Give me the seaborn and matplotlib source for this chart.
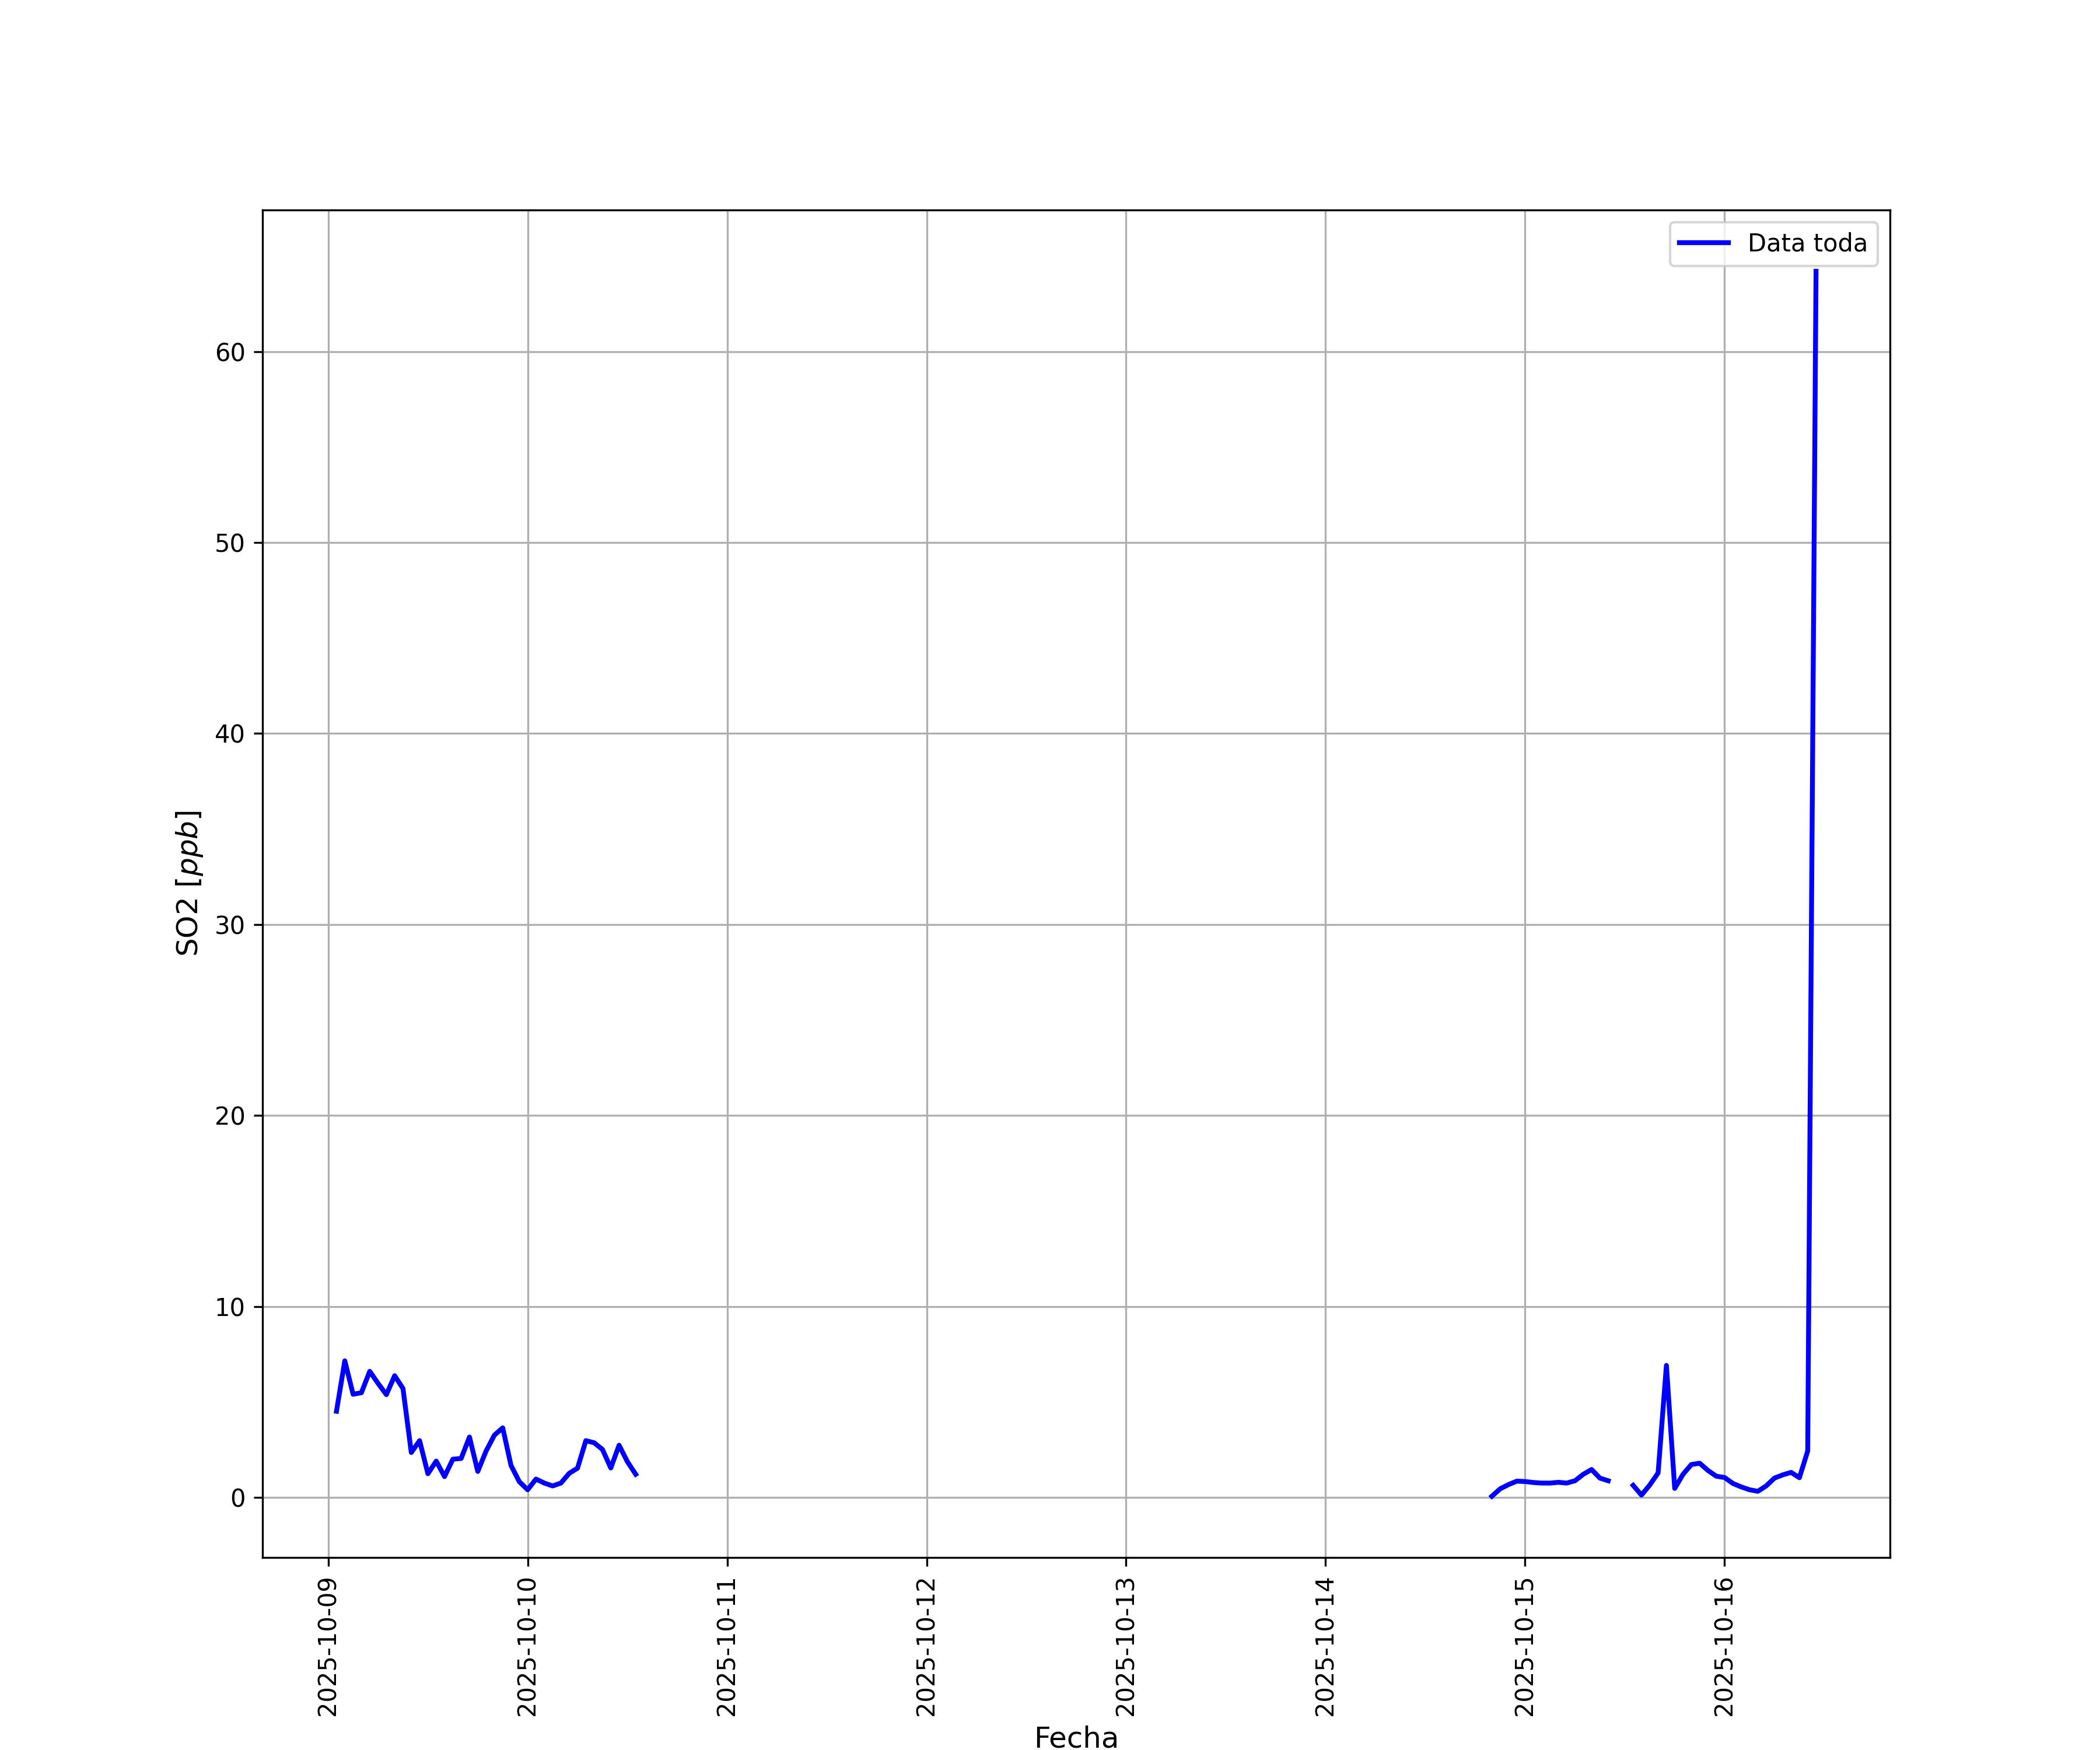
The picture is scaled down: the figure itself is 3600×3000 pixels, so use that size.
import pandas as pd
import seaborn as sns
import matplotlib.pyplot as plt

# Datos horarios de SO2 (ppb), tres tramos con huecos entre ellos
tramo1_inicio = "2025-10-09 01:00"
tramo1_so2 = [4.52, 7.16, 5.41, 5.49, 6.61, 5.98, 5.39, 6.38, 5.71, 2.36,
              2.98, 1.25, 1.91, 1.10, 2.01, 2.05, 3.17, 1.37, 2.44, 3.27,
              3.65, 1.68, 0.83, 0.41, 0.97, 0.76, 0.61, 0.76, 1.27, 1.54,
              2.98, 2.87, 2.52, 1.55, 2.74, 1.88, 1.22]

tramo2_inicio = "2025-10-14 20:00"
tramo2_so2 = [0.07, 0.46, 0.68, 0.86, 0.84, 0.79, 0.76, 0.76, 0.80, 0.76,
              0.88, 1.22, 1.47, 1.02, 0.88]

tramo3_inicio = "2025-10-15 13:00"
tramo3_so2 = [0.64, 0.13, 0.66, 1.29, 6.92, 0.48, 1.22, 1.73, 1.80, 1.42,
              1.12, 1.05, 0.74, 0.56, 0.41, 0.33, 0.61, 1.02, 1.19, 1.32,
              1.04, 2.44, 64.2]

tramos = [(tramo1_inicio, tramo1_so2), (tramo2_inicio, tramo2_so2), (tramo3_inicio, tramo3_so2)]

frames = []
for i, (inicio, vals) in enumerate(tramos):
    frames.append(pd.DataFrame({
        "Fecha": pd.date_range(inicio, periods=len(vals), freq="h"),
        "SO2": vals,
        "tramo": i,
    }))
df = pd.concat(frames, ignore_index=True)

fig, ax = plt.subplots(figsize=(12, 10))
for i, (tramo, d) in enumerate(df.groupby("tramo")):
    sns.lineplot(data=d, x="Fecha", y="SO2", color="b", linewidth=2,
                 label="Data toda" if i == 0 else None, legend=False, ax=ax)

ax.set_xlabel("Fecha", fontsize=12)
ax.set_ylabel("SO2 $[ppb]$", fontsize=12)
ax.grid(True)
ax.legend(loc="upper right")
plt.xticks(rotation=90)

fig.savefig("out.png", dpi=300)
